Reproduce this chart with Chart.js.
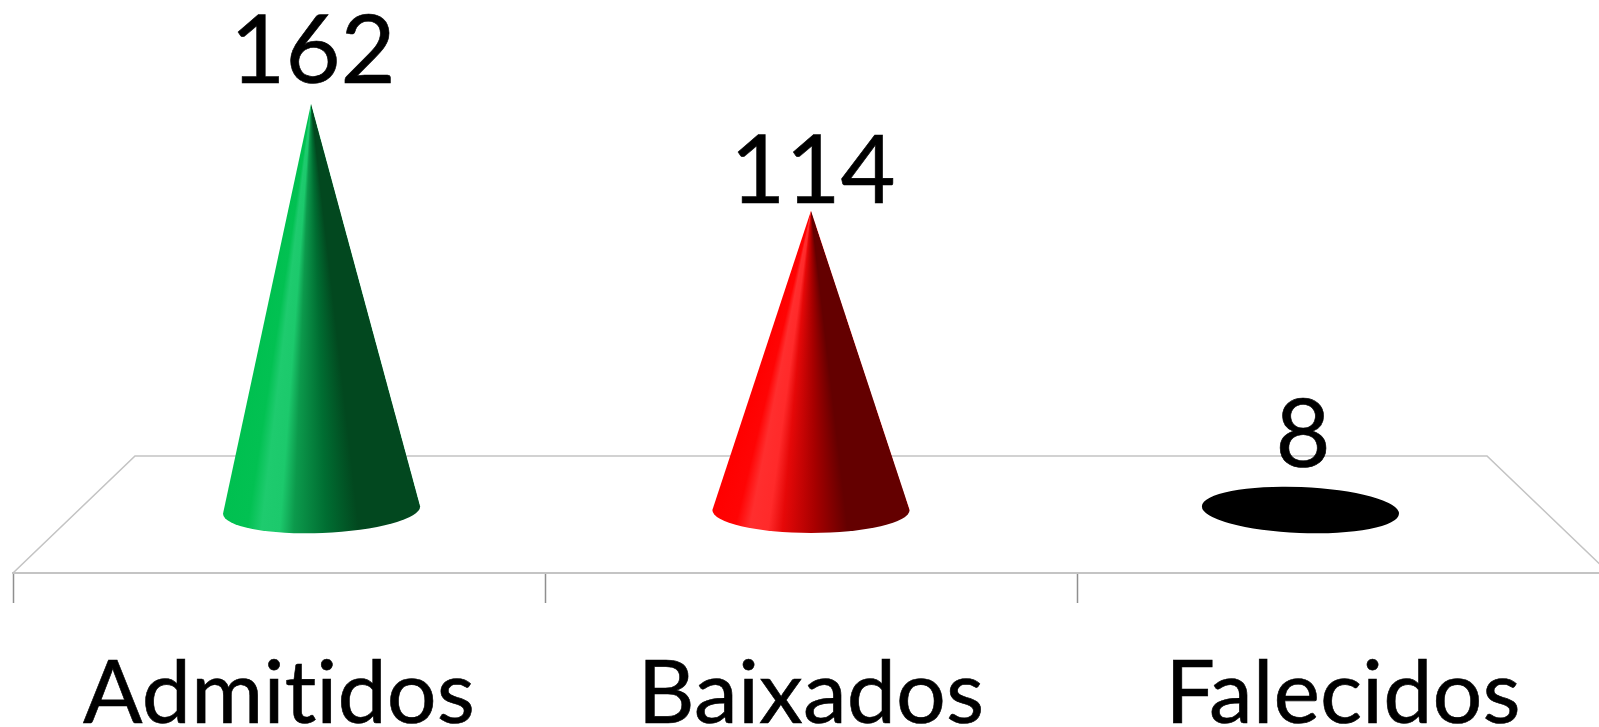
<!DOCTYPE html>
<html><head><meta charset="utf-8">
<style>html,body{margin:0;padding:0;background:#fff;overflow:hidden;width:1599px;height:727px}canvas{display:block}</style>
<script src="https://cdn.jsdelivr.net/npm/chart.js@4"></script>
</head><body><canvas id="c" width="1620" height="787"></canvas>
<script>
const categories = ['Admitidos','Baixados','Falecidos'];
const seriesName = 'Pacientes';
const values = [162,114,8];
const shadeStops = [0,0.13,0.2,0.29,0.36,0.52,0.68,1];
const greenShades = ['#00C050','#02C152','#1ECB6E','#1CC96C','#0C9A4C','#006E32','#02481F','#02481F'];
const redShades = ['#FF0000','#FF0404','#FF2E2E','#FF2A2A','#E60808','#A80000','#640000','#640000'];
const blackShades = ['#000000','#000000','#000000','#000000','#000000','#000000','#000000','#000000'];
const shades = [greenShades,redShades,blackShades];

// Oblique view of the 3D floor and of the cones standing on it
const VIEW = {depth:117, inset:122, floorRise:63, depthScale:0.92, tiltDeg:0.0045, lift:4.5e-5, fore:3.69e-4, ry:23};
function project(chart, el){
  const xs = chart.scales.x, cx = (xs.left + xs.right)/2;
  const baseY = el.base - VIEW.floorRise;
  const h = el.base - el.y;
  const bx = cx + (el.x - cx)*VIEW.depthScale;
  return {cx, bx, baseY,
    tipX: cx + (el.x - cx)*VIEW.depthScale*(1 + h*VIEW.lift),
    tipY: baseY - h/(1 + VIEW.fore*h), h,
    rx: el.width/2*VIEW.depthScale};
}
const cone3d = {
  id:'cone3d',
  beforeDraw(chart){ chart.ctx.letterSpacing='0.05px'; },
  beforeDatasetsDraw(chart){
    const {ctx, scales:{x}} = chart;
    const y0 = x.top;
    ctx.save();
    ctx.strokeStyle='#C4C4C4'; ctx.lineWidth=1.6;
    ctx.beginPath();
    ctx.moveTo(x.left,y0);
    ctx.lineTo(x.left+VIEW.inset,y0-VIEW.depth);
    ctx.lineTo(x.right-VIEW.inset,y0-VIEW.depth);
    ctx.lineTo(x.right,y0);
    ctx.stroke();
    ctx.restore();
  },
  afterDatasetsDraw(chart){
    const {ctx} = chart;
    chart.getDatasetMeta(0).data.forEach((el,i)=>{
      const p = project(chart,el);
      const rot = (p.bx-p.cx)*VIEW.tiltDeg*Math.PI/180;
      const ca=Math.cos(rot), sa=Math.sin(rot);
      const rx=p.rx, ry=VIEW.ry;
      const rX=p.bx+rx*ca, rY=p.baseY+rx*sa, lX=p.bx-rx*ca, lY=p.baseY-rx*sa;
      const aR=Math.atan2(rY-p.tipY,rX-p.tipX), aL=Math.atan2(lY-p.tipY,lX-p.tipX);
      let fill;
      const hasWedge = aL>aR && p.tipY < Math.min(lY,rY)-ry;
      if(hasWedge){
        fill=ctx.createConicGradient(aR,p.tipX,p.tipY);
        shadeStops.forEach((t,k)=>fill.addColorStop((aL-aR)*(1-t)/(2*Math.PI),shades[i][k]));
      } else fill=shades[i][0];
      ctx.save();
      ctx.fillStyle=fill;
      ctx.beginPath();
      ctx.ellipse(p.bx,p.baseY,rx,ry,rot,0,Math.PI);
      if(hasWedge) ctx.lineTo(p.tipX,p.tipY);
      else ctx.ellipse(p.bx,p.baseY,rx,ry,rot,Math.PI,2*Math.PI);
      ctx.closePath();
      ctx.fill();
      // value label
      ctx.fillStyle='#000';
      ctx.strokeStyle='#000';
      ctx.lineWidth=0.6;
      ctx.font='95px Lato';
      ctx.textAlign='center';
      ctx.textBaseline='alphabetic';
      const lx=p.tipX+2, ly=487.3-p.h*0.846;
      ctx.fillText(String(values[i]),lx,ly);
      ctx.strokeText(String(values[i]),lx,ly);
      ctx.restore();
    });
  }
};

new Chart(document.getElementById('c'),{
  type:'bar',
  data:{labels:categories,datasets:[{label:seriesName,data:values,backgroundColor:'rgba(0,0,0,0)',borderWidth:0,categoryPercentage:1,barPercentage:0.403}]},
  plugins:[cone3d],
  options:{
    responsive:false,animation:false,
    layout:{padding:{left:13,right:11,top:12.5,bottom:0}},
    plugins:{legend:{display:false},title:{display:false},tooltip:{enabled:false}},
    scales:{
      y:{display:false,min:0,max:190},
      x:{
        border:{display:true,color:'#C4C4C4',width:2},
        grid:{display:true,drawOnChartArea:false,drawTicks:true,tickLength:30,tickColor:'#8F8F8F',tickWidth:1.5,color:'#8F8F8F'},
        ticks:{color:'#000',font:{family:'Lato',size:88,lineHeight:1},padding:48,maxRotation:0,autoSkip:false,textStrokeColor:'#000',textStrokeWidth:0.6}
      }
    }
  }
});
</script></body></html>
